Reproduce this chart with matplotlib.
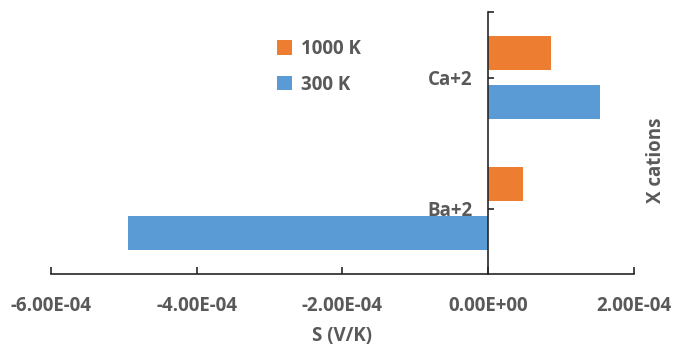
import matplotlib.pyplot as plt
import numpy as np

# Seebeck coefficient for the two X cations at two temperatures
cations = ['Ba+2', 'Ca+2']
s_300k = [-4.95e-4, 1.53e-4]
s_1000k = [4.7e-5, 8.6e-5]
x_ticks = [-6e-4, -4e-4, -2e-4, 0.0, 2e-4]

txt = '#595959'
fs = 13.5
plt.rcParams['font.family'] = ['Open Sans', 'DejaVu Sans']
plt.rcParams['font.weight'] = 'bold'

fig = plt.figure(figsize=(6.96, 3.5), dpi=100)
ax = fig.add_axes([51/696, 1 - 274/350, 583/696, 262/350])

y = np.arange(len(cations))
b300 = ax.barh(y - 0.19, s_300k, height=0.26, color='#5B9BD5', label='300 K')
b1000 = ax.barh(y + 0.19, s_1000k, height=0.26, color='#ED7D31', label='1000 K')

ax.set_xlim(-6e-4, 2e-4)
ax.set_ylim(-0.5, 1.5)

ax.spines['top'].set_visible(False)
ax.spines['right'].set_visible(False)
ax.spines['left'].set_position(('data', 0))
for s in ('left', 'bottom'):
    ax.spines[s].set_color('#262626')
    ax.spines[s].set_linewidth(1.2)

ax.set_xticks(x_ticks)
ax.set_xticklabels(['{:.2E}'.format(v) for v in x_ticks])
ax.set_yticks([0, 1, 1.5])
ax.set_yticklabels(cations + [''])

ax.tick_params(axis='x', direction='in', length=5, width=1.2, color='#262626',
               labelsize=fs, labelcolor=txt, pad=16)
ax.tick_params(axis='y', direction='in', length=4, width=1.2, color='#262626',
               labelsize=fs, labelcolor=txt, pad=11)

ax.set_xlabel('S (V/K)', fontsize=fs, color=txt, fontweight='bold', labelpad=7)
ax.yaxis.set_label_position('right')
ax.set_ylabel('X cations', fontsize=fs, color=txt, fontweight='bold')
ax.yaxis.set_label_coords(1.02, 0.435)

leg = ax.legend(handles=[b1000, b300], loc='upper left',
                bbox_to_anchor=(260/696, 1 - 22/350), bbox_transform=fig.transFigure,
                frameon=False, handlelength=0.8, handleheight=0.8,
                handletextpad=0.5, labelspacing=0.85, fontsize=fs)
for t in leg.get_texts():
    t.set_color(txt)

fig.savefig('out.png', dpi=100)
